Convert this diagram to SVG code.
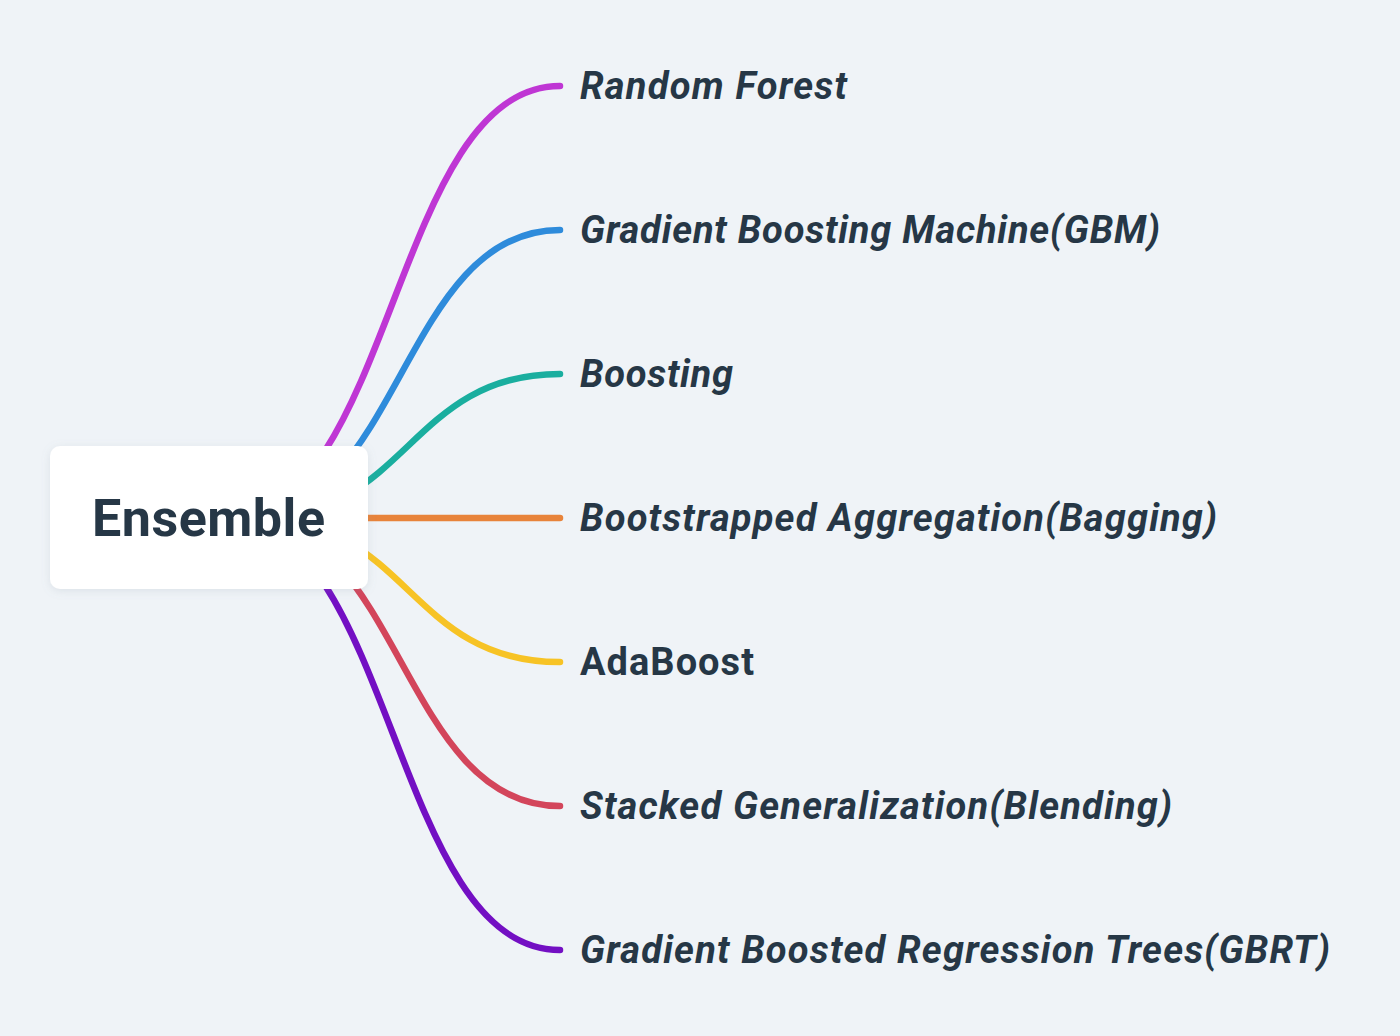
<svg xmlns="http://www.w3.org/2000/svg" width="1400" height="1036" viewBox="0 0 1400 1036">
<defs>
<style>
.c{fill:none;stroke-width:6.5;stroke-linecap:round}
.t{font-family:Roboto,"Liberation Sans",sans-serif;font-weight:700;font-style:italic;font-size:38px;fill:#263746}
.u{font-style:normal}
.root{font-family:Roboto,"Liberation Sans",sans-serif;font-weight:700;font-size:52px;fill:#263746}
</style>
<filter id="sh" x="-10%" y="-10%" width="120%" height="130%"><feDropShadow dx="0" dy="2" stdDeviation="4" flood-color="#8090a0" flood-opacity="0.18"/></filter>
</defs>
<rect width="1400" height="1036" fill="#EFF3F7"/>
<g id="connectors">
<path class="c" stroke="#BF36D4" d="M226 518 C393 518 393 86 560 86"/>
<path class="c" stroke="#2E8BDB" d="M242 518 C401 518 401 230 560 230"/>
<path class="c" stroke="#1AAE9F" d="M256 518 C408 518 408 374 560 374"/>
<path class="c" stroke="#E8833A" d="M256 518 L560 518"/>
<path class="c" stroke="#F7C325" d="M256 518 C408 518 408 662 560 662"/>
<path class="c" stroke="#D3455B" d="M242 518 C401 518 401 806 560 806"/>
<path class="c" stroke="#730FC3" d="M226 518 C393 518 393 950 560 950"/>
</g>
<g id="root">
<rect x="50" y="446" width="318" height="143" rx="10" fill="#FFFFFF" filter="url(#sh)"/>
<text class="root" x="92" y="536" textLength="233">Ensemble</text>
</g>
<g id="n1"><text class="t" x="580" y="99" textLength="267">Random Forest</text></g>
<g id="n2"><text class="t" x="580" y="243" textLength="580">Gradient Boosting Machine(GBM)</text></g>
<g id="n3"><text class="t" x="580" y="387" textLength="153">Boosting</text></g>
<g id="n4"><text class="t" x="580" y="531" textLength="637">Bootstrapped Aggregation(Bagging)</text></g>
<g id="n5"><text class="t u" x="580" y="675" textLength="174">AdaBoost</text></g>
<g id="n6"><text class="t" x="580" y="819" textLength="592">Stacked Generalization(Blending)</text></g>
<g id="n7"><text class="t" x="580" y="963" textLength="750">Gradient Boosted Regression Trees(GBRT)</text></g>
</svg>
